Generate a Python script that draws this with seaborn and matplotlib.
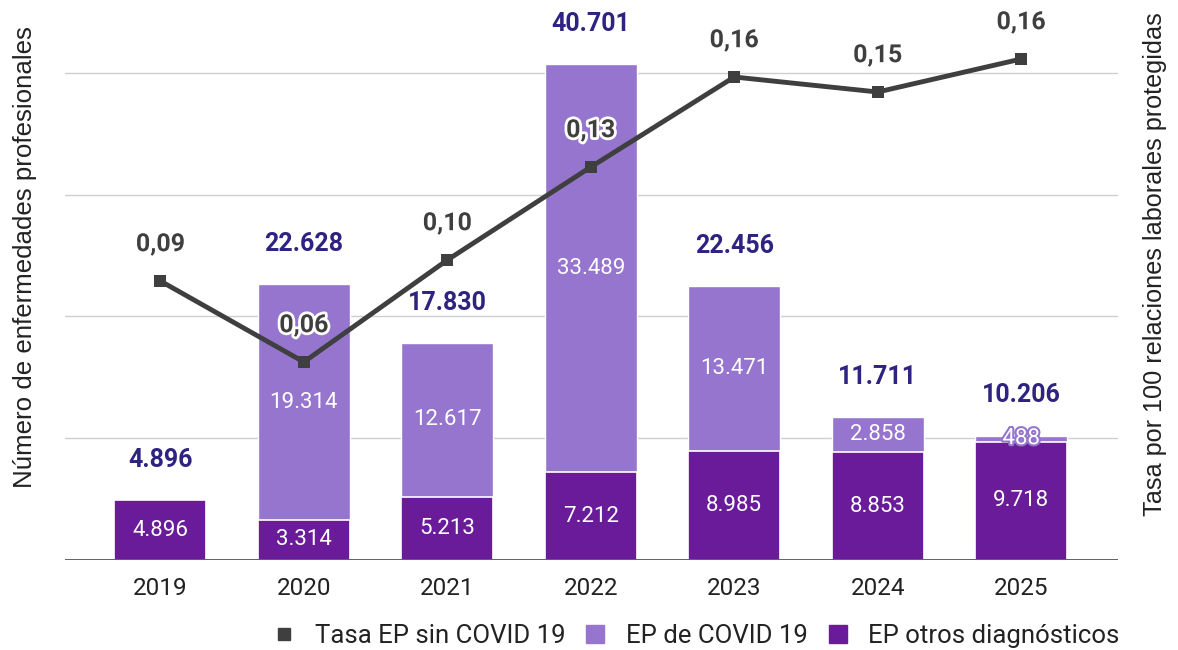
import matplotlib
matplotlib.use("Agg")
import matplotlib.pyplot as plt
import matplotlib.patheffects as pe
from matplotlib.lines import Line2D
import numpy as np
import seaborn as sns

# Datos
anios = ["2019", "2020", "2021", "2022", "2023", "2024", "2025"]
ep_otros = [4896, 3314, 5213, 7212, 8985, 8853, 9718]
ep_covid = [0, 19314, 12617, 33489, 13471, 2858, 488]
tasa_sin_covid = [0.089, 0.062, 0.096, 0.127, 0.157, 0.152, 0.163]

serie_tasa = "Tasa EP sin COVID 19"
serie_covid = "EP de COVID 19"
serie_otros = "EP otros diagnósticos"

COL_OTROS = "#6A1B9A"
COL_COVID = "#9575CD"
COL_TOTAL = "#2E2381"
COL_LINEA = "#3F3F3F"

sns.set_style("white")
plt.rcParams["font.family"] = ["Roboto", "DejaVu Sans"]

totales = [a + b for a, b in zip(ep_otros, ep_covid)]
pos = np.arange(len(anios))


def miles(v):
    return f"{v:,}".replace(",", ".")


fig = plt.figure(figsize=(11.78, 6.5), dpi=100)
ax = fig.add_axes([65 / 1178, 90 / 650, 1053 / 1178, 609 / 650])

# barras apiladas: total (covid) detrás, otros diagnósticos delante
sns.barplot(x=anios, y=totales, color=COL_COVID, saturation=1, width=0.64,
            errorbar=None, ax=ax, zorder=2)
sns.barplot(x=anios, y=ep_otros, color=COL_OTROS, saturation=1, width=0.64,
            errorbar=None, ax=ax, edgecolor="white", linewidth=1.2, zorder=3)

ax.set_ylim(0, 50000)
ax.set_xlim(-0.665, 6.675)
ax.set_yticks([10000, 20000, 30000, 40000])
ax.set_yticklabels([])
ax.grid(axis="y", color="#cfcfcf", linewidth=1, zorder=0)
ax.axhline(0, color="#555555", linewidth=1.3, zorder=4)
for s in ax.spines.values():
    s.set_visible(False)
ax.tick_params(axis="both", length=0)
ax.tick_params(axis="x", labelsize=17.5, pad=12, colors="#222222")
ax.set_xlabel("")
ax.set_ylabel("Número de enfermedades profesionales", fontsize=18.6,
              family="Liberation Sans", color="#222222")
ax.yaxis.set_label_coords(-0.027, 0.497)

# etiquetas dentro de las barras
for i in pos:
    ax.text(i, ep_otros[i] / 2, miles(ep_otros[i]), ha="center", va="center",
            color="white", fontsize=16, zorder=6)
    if ep_covid[i] > 0:
        t = ax.text(i, ep_otros[i] + ep_covid[i] / 2, miles(ep_covid[i]),
                    ha="center", va="center", color="white", fontsize=16, zorder=6)
        if ep_covid[i] < 1500:
            t.set_path_effects([pe.withStroke(linewidth=3, foreground=COL_COVID)])
    ax.annotate(miles(totales[i]), (i, totales[i]), xytext=(0, 29),
                textcoords="offset points", ha="center", va="center",
                color=COL_TOTAL, fontsize=18, fontweight="bold", zorder=6)

# línea de la tasa en el eje secundario
ax2 = ax.twinx()
sns.lineplot(x=pos, y=tasa_sin_covid, ax=ax2, color=COL_LINEA, linewidth=3.5,
             marker="s", markersize=9, markeredgewidth=0)
ax2.set_ylim(-0.004, 0.199)
ax2.set_yticks([])
for s in ax2.spines.values():
    s.set_visible(False)
ax2.set_ylabel("Tasa por 100 relaciones laborales protegidas", fontsize=18.2,
               family="Liberation Sans", color="#222222")
ax2.yaxis.set_label_coords(1.024, 0.486)

for i in pos:
    ax2.annotate(f"{tasa_sin_covid[i]:.2f}".replace(".", ","), (i, tasa_sin_covid[i]),
                 xytext=(0, 26.5), textcoords="offset points", ha="center",
                 va="center", color=COL_LINEA, fontsize=18, fontweight="bold",
                 path_effects=[pe.withStroke(linewidth=4, foreground="white")])

# leyenda
handles = [
    Line2D([], [], color=COL_LINEA, marker="s", linestyle="", markersize=9),
    Line2D([], [], color=COL_COVID, marker="s", linestyle="", markersize=13),
    Line2D([], [], color=COL_OTROS, marker="s", linestyle="", markersize=13),
]
fig.legend(handles, [serie_tasa, serie_covid, serie_otros], ncol=3,
           loc="center right", bbox_to_anchor=(1143 / 1178, 1 - 636 / 650),
           frameon=False, fontsize=18.5, handlelength=0.8, handletextpad=0.8,
           columnspacing=0.75, labelcolor="#222222")

fig.savefig("out.png", dpi=100)
